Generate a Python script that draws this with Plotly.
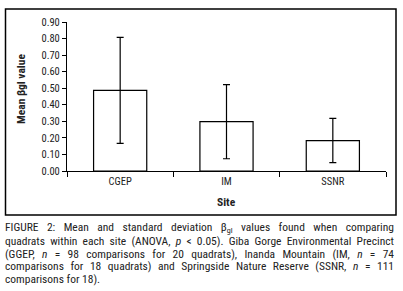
import plotly.graph_objects as go

sites = ["CGEP", "IM", "SSNR"]
mean_bgl = [0.487, 0.298, 0.184]
sd_bgl = [0.320, 0.224, 0.134]
y_ticks = [0.0, 0.1, 0.2, 0.3, 0.4, 0.5, 0.6, 0.7, 0.8, 0.9]

caption_lines = [
    "FIGURE 2: Mean and standard deviation β<sub>gl</sub> values found when comparing",
    "quadrats within each site (ANOVA, <i>p</i> &lt; 0.05). Giba Gorge Environmental Precinct",
    "(GGEP, <i>n</i> = 98 comparisons for 20 quadrats), Inanda Mountain (IM, <i>n</i> = 74",
    "comparisons for 18 quadrats) and Springside Nature Reserve (SSNR, <i>n</i> = 111",
    "comparisons for 18).",
]

W, H = 403, 291
L, R, T, B = 67, 17, 22, 120
pw, ph = W - L - R, H - T - B


def px(x):
    return (x - L) / pw


def py(y):
    return (H - B - y) / ph


chart_font = "Roboto Condensed, Roboto, sans-serif"
text_col = "#222"

fig = go.Figure()
fig.add_trace(go.Bar(
    x=sites, y=mean_bgl,
    marker=dict(color="white", line=dict(color="black", width=1.2)),
    error_y=dict(type="data", array=sd_bgl, visible=True, color="black", thickness=1.2, width=3.5),
    width=0.5,
))

fig.update_layout(
    width=W, height=H,
    margin=dict(l=L, r=R, t=T, b=B, autoexpand=False),
    paper_bgcolor="white", plot_bgcolor="white",
    showlegend=False,
    font=dict(family=chart_font, size=10.5, color=text_col),
    xaxis=dict(
        showline=True, linecolor="black", linewidth=1.2,
        ticks="outside", ticklen=5, tickcolor="black", tickwidth=1,
        tickson="boundaries", showgrid=False, automargin=False,
        tickfont=dict(size=10.5, color=text_col),
    ),
    yaxis=dict(
        range=[0, 0.9], tickvals=y_ticks, tickformat=".2f",
        showline=True, linecolor="black", linewidth=1.2,
        ticks="outside", ticklen=4, tickcolor="black", tickwidth=1,
        showgrid=False, zeroline=False, automargin=False,
        tickfont=dict(size=10.5, color=text_col),
    ),
)

# caption lines (annotations 0..4)
line_y = [227.7, 240.7, 253.7, 266.3, 279.3]
for txt, yy in zip(caption_lines, line_y):
    fig.add_annotation(xref="paper", yref="paper", x=px(4), y=py(yy),
                       xanchor="left", yanchor="middle", align="left", showarrow=False,
                       borderpad=0, text=txt, font=dict(family=chart_font, size=11.5, color=text_col))

# axis titles
fig.add_annotation(xref="paper", yref="paper", x=px(21), y=py(89),
                   xanchor="center", yanchor="middle", showarrow=False, textangle=-90,
                   text="<b>Mean βgl value</b>", font=dict(family=chart_font, size=11.5, color=text_col))
fig.add_annotation(xref="paper", yref="paper", x=px(226), y=py(202),
                   xanchor="center", yanchor="middle", showarrow=False,
                   text="<b>Site</b>", font=dict(family=chart_font, size=11.5, color=text_col))

# outer frame around the chart
fig.add_shape(type="rect", xref="paper", yref="paper",
              x0=px(5.5), x1=px(396), y0=py(215), y1=py(9),
              line=dict(color="black", width=1.5), fillcolor="rgba(0,0,0,0)")

post = """
document.body.style.margin = '0';
document.body.style.padding = '0';
var gd = document.getElementById('{plot_id}');
function justify(){
  var groups = gd.querySelectorAll('g.annotation');
  groups.forEach(function(g){
    var idx = +g.getAttribute('data-index');
    if (idx < 4) {
      var t = g.querySelector('text.annotation-text');
      if (!t) return;
      t.style.wordSpacing = '0px';
      var len = t.getComputedTextLength();
      var spaces = (t.textContent.match(/ /g) || []).length;
      if (spaces > 0) t.style.wordSpacing = ((389 - len) / spaces) + 'px';
    }
  });
}
justify();
"""

fig.write_html("out.html", post_script=post, config={"displayModeBar": False})
